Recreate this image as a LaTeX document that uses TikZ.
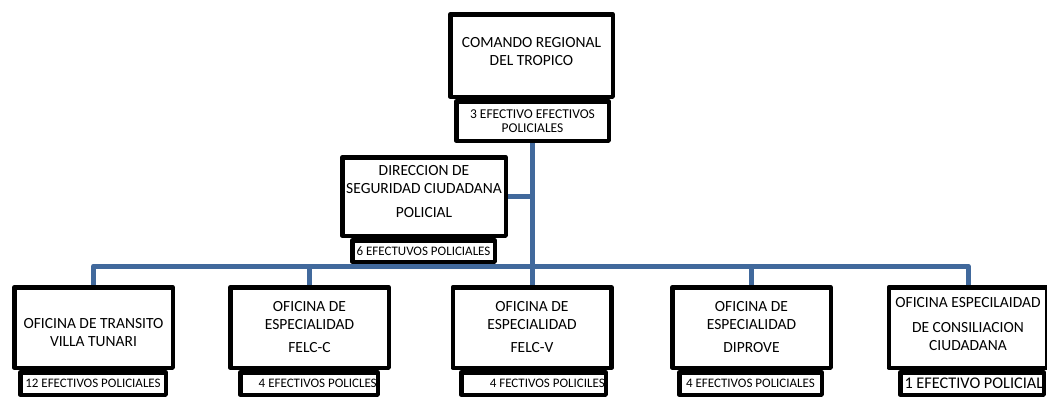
\documentclass[tikz,border=0pt]{standalone}
\usepackage{fontspec}
\setmainfont{Carlito}
\usetikzlibrary{backgrounds}
\definecolor{linkblue}{RGB}{65,105,156}
\tikzset{
	box/.style={draw,line width=4.5pt,line join=round,fill=white,align=center,inner sep=0pt,minimum width=158.5pt,minimum height=80.5pt,font=\fontsize{15.5}{18}\selectfont},
	sub/.style={draw,line width=4.5pt,line join=round,fill=white,align=center,inner sep=1pt,minimum height=22.5pt,font=\fontsize{13}{15}\selectfont},
	link/.style={draw=linkblue,line width=5pt,line join=round}
}

\begin{document}
\begin{tikzpicture}[x=1pt,y=-1pt]
		\clip (0,0) rectangle (1047,399);

		% Comando regional
		\node[box,minimum width=162.5pt,minimum height=82.5pt] (comando) at (531.5,55.5) {COMANDO REGIONAL\\DEL TROPICO\\[-10pt]};
		\node[sub,minimum width=152.5pt,minimum height=39.5pt,font=\fontsize{13.5}{14}\selectfont] (comandoef) at (532.5,121) {3 EFECTIVO EFECTIVOS\\POLICIALES};

		% Direccion
		\node[box,minimum width=163.5pt,minimum height=78.5pt] (direccion) at (424,196.5) {DIRECCION DE\\SEGURIDAD CIUDADANA\\[6pt]POLICIAL\\[-8pt]};
		\node[sub,minimum width=142.5pt,minimum height=21.5pt] (direccionef) at (423.5,251) {6 EFECTUVOS POLICIALES};

		% Oficinas
		\foreach \n/\x/\txt in {1/93.5/{\mbox{}\\[2pt]OFICINA DE TRANSITO\\VILLA TUNARI},
				2/309.5/{OFICINA DE\\ESPECIALIDAD\\[5pt]FELC-C},
				3/532/{OFICINA DE\\ESPECIALIDAD\\[5pt]FELC-V},
				4/751.5/{OFICINA DE\\ESPECIALIDAD\\[5pt]DIPROVE},
				5/968/{OFICINA ESPECILAIDAD\\[7pt]DE CONSILIACION\\CIUDADANA\\[-10pt]}}
			\node[box] (of\n) at (\x,327.5) {\txt};

		% Efectivos
		\node[sub,minimum width=145.5pt] (ef1) at (93,383.5) {12 EFECTIVOS POLICIALES};
		\node[sub,text width=135.5pt,align=flush right] (ef2) at (309,383.5) {4 EFECTIVOS POLICLES};
		\node[sub,text width=142.5pt,align=flush right] (ef3) at (533.5,383.5) {4 FECTIVOS POLICILES};
		\node[sub,minimum width=142.5pt] (ef4) at (750.5,383.5) {4 EFECTIVOS POLICIALES};
		\node[sub,text width=142.5pt,inner sep=0.5pt,align=flush right,font=\fontsize{16.3}{18}\selectfont] (ef5) at (972,383.5) {1 EFECTIVO POLICIAL};

		% Lineas
		\coordinate (bus) at (93.5,266);
		\begin{scope}[on background layer]
			\draw[link] (comandoef.south) -- (comandoef.south |- bus);
			\draw[link] (direccion.east) -- (direccion.east -| comandoef.south);
			\draw[link] (of1.north) -- (bus) -| (of5.north);
			\foreach \n in {2,3,4}
				\draw[link] (of\n.north) -- (of\n.north |- bus);
		\end{scope}
\end{tikzpicture}
\end{document}
